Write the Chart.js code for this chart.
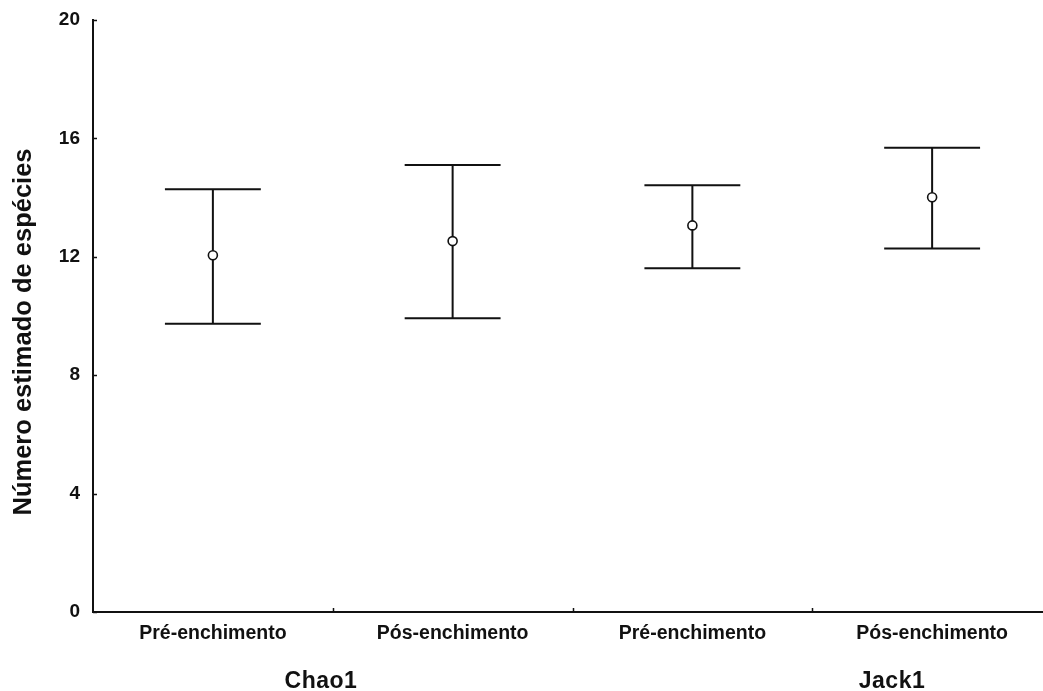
<!DOCTYPE html>
<html>
<head>
<meta charset="utf-8">
<script src="https://cdn.jsdelivr.net/npm/chart.js@4.4.1/dist/chart.umd.min.js"></script>
<style>
  html, body { margin: 0; padding: 0; background: #fff; overflow: hidden; }
  #wrap { width: 1052px; height: 691px; }
  canvas { display: block; }
</style>
</head>
<body>
<div id="wrap"><canvas id="c" width="1052" height="691"></canvas></div>
<script>
// Estimated species richness per period, for each estimator
const categories = ['Pré-enchimento', 'Pós-enchimento', 'Pré-enchimento', 'Pós-enchimento'];
const groups = ['Chao1', 'Jack1'];
const meanValues = [12.05, 12.53, 13.06, 14.01];
const upperValues = [14.28, 15.10, 14.42, 15.68];
const lowerValues = [9.74, 9.92, 11.61, 12.28];
const yTicks = [0, 4, 8, 12, 16, 20];
const yTitle = 'Número estimado de espécies';

const FONT = '"Liberation Sans", Arial, Helvetica, sans-serif';
const INK = '#111';

// Error bars (vertical line + caps), drawn under the mean markers
const errorBars = {
  id: 'errorBars',
  beforeDatasetsDraw(chart) {
    const { ctx, scales: { x, y } } = chart;
    const capHalf = (x.getPixelForValue(1) - x.getPixelForValue(0)) * 0.2;
    ctx.save();
    ctx.strokeStyle = INK;
    ctx.lineWidth = 2;
    categories.forEach((_, i) => {
      const px = x.getPixelForValue(i);
      const top = y.getPixelForValue(upperValues[i]);
      const bot = y.getPixelForValue(lowerValues[i]);
      ctx.beginPath();
      ctx.moveTo(px, top); ctx.lineTo(px, bot);
      ctx.moveTo(px - capHalf, top); ctx.lineTo(px + capHalf, top);
      ctx.moveTo(px - capHalf, bot); ctx.lineTo(px + capHalf, bot);
      ctx.stroke();
    });
    ctx.restore();
  }
};

// Inward tick marks, y-axis title and estimator group labels
const decorations = {
  id: 'decorations',
  afterDraw(chart) {
    const { ctx, chartArea, scales: { x, y } } = chart;
    ctx.save();
    ctx.strokeStyle = INK;
    ctx.lineWidth = 1.5;
    ctx.beginPath();
    yTicks.forEach(v => {
      const py = Math.round(y.getPixelForValue(v)) + 0.5;
      ctx.moveTo(chartArea.left, py);
      ctx.lineTo(chartArea.left + 4, py);
    });
    for (let i = 0; i < categories.length - 1; i++) {
      const px = Math.round((x.getPixelForValue(i) + x.getPixelForValue(i + 1)) / 2) + 0.5;
      ctx.moveTo(px, chartArea.bottom);
      ctx.lineTo(px, chartArea.bottom - 4);
    }
    ctx.stroke();

    ctx.fillStyle = INK;
    ctx.textAlign = 'center';
    ctx.textBaseline = 'alphabetic';

    ctx.save();
    ctx.translate(31, 332);
    ctx.rotate(-Math.PI / 2);
    ctx.font = 'bold 25.5px ' + FONT;
    ctx.fillText(yTitle, 0, 0);
    ctx.restore();

    ctx.font = 'bold 23px ' + FONT;
    if ('letterSpacing' in ctx) ctx.letterSpacing = '0.5px';
    const groupX = [321, 892];
    groups.forEach((g, i) => ctx.fillText(g, groupX[i], 688));
    ctx.restore();
  }
};

new Chart(document.getElementById('c'), {
  type: 'line',
  data: {
    labels: categories,
    datasets: [{
      data: meanValues,
      showLine: false,
      pointStyle: 'circle',
      pointRadius: 4.5,
      pointBorderWidth: 1.6,
      pointBackgroundColor: '#fff',
      pointBorderColor: INK
    }]
  },
  options: {
    responsive: false,
    animation: false,
    layout: { autoPadding: false, padding: { top: 20, left: 0, right: 0, bottom: 0 } },
    plugins: { legend: { display: false }, tooltip: { enabled: false } },
    scales: {
      x: {
        type: 'category',
        offset: true,
        grid: { display: true, offset: true, drawOnChartArea: false, drawTicks: false },
        border: { display: true, color: INK, width: 2 },
        ticks: { color: INK, padding: 10, font: { family: FONT, size: 19.5, weight: 'bold' } },
        afterFit(scale) { scale.height = 79; }
      },
      y: {
        min: 0,
        max: 20,
        afterBuildTicks(scale) { scale.ticks = yTicks.map(v => ({ value: v })); },
        grid: { display: true, drawOnChartArea: false, drawTicks: false },
        border: { display: true, color: INK, width: 2 },
        ticks: { color: INK, padding: 13, font: { family: FONT, size: 19, weight: 'bold' } },
        afterFit(scale) {
          scale.width = 93;
          scale.paddingTop = 0;
          scale.paddingBottom = 0;
        }
      }
    }
  },
  plugins: [errorBars, decorations]
});
</script>
</body>
</html>
